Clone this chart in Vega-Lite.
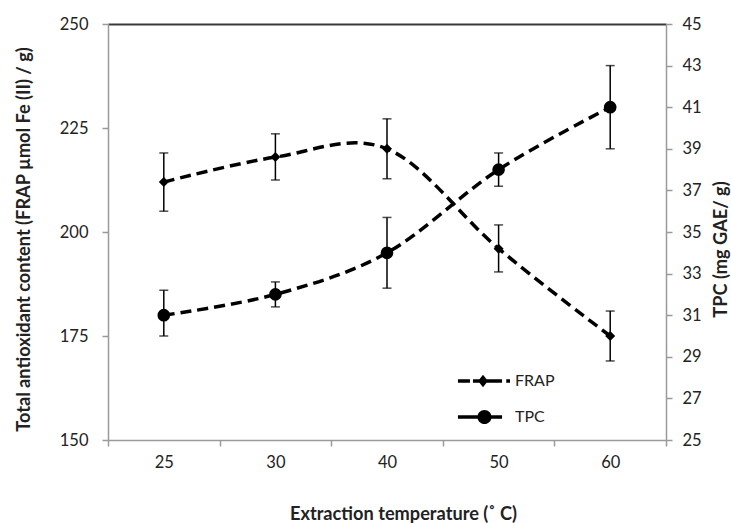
{
  "$schema": "https://vega.github.io/schema/vega-lite/v6.json",
  "width": 558,
  "height": 416,
  "autosize": "none",
  "padding": {"left": 108, "top": 24, "right": 65, "bottom": 83},
  "background": "white",
  "config": {
    "view": {"stroke": null},
    "font": "Lato",
    "axis": {
      "grid": false,
      "domainColor": "#9a9a9a",
      "domainWidth": 1.5,
      "tickColor": "#9a9a9a",
      "tickWidth": 1.5,
      "tickSize": 6,
      "labelFont": "Lato",
      "labelFontSize": 16.5,
      "labelColor": "#222222",
      "titleFont": "Lato",
      "titleFontSize": 18.2,
      "titleFontWeight": "bold",
      "titleColor": "#222222"
    }
  },
  "data": {
    "values": [
      {"temp": 25, "frap": 212, "frap_lo": 205, "frap_hi": 219, "tpc": 31, "tpc_lo": 30, "tpc_hi": 32.2},
      {"temp": 30, "frap": 218, "frap_lo": 212.5, "frap_hi": 223.6, "tpc": 32, "tpc_lo": 31.4, "tpc_hi": 32.6},
      {"temp": 40, "frap": 220, "frap_lo": 212.8, "frap_hi": 227.2, "tpc": 34, "tpc_lo": 32.3, "tpc_hi": 35.7},
      {"temp": 50, "frap": 196, "frap_lo": 190.4, "frap_hi": 201.7, "tpc": 38, "tpc_lo": 37.2, "tpc_hi": 38.8},
      {"temp": 60, "frap": 175, "frap_lo": 169, "frap_hi": 181, "tpc": 41, "tpc_lo": 39, "tpc_hi": 43}
    ]
  },
  "layer": [
    {
      "encoding": {
        "x": {
          "field": "temp", "type": "ordinal",
          "scale": {"type": "band", "paddingInner": 0, "paddingOuter": 0},
          "axis": {"orient": "bottom", "labelAngle": 0, "tickBand": "extent", "labelPadding": 8, "titleX": 295, "titleY": 74, "titleAlign": "center", "titleBaseline": "middle", "title": "Extraction temperature (˚ C)"}
        }
      },
      "layer": [
        {
          "mark": {"type": "rule", "color": "black", "strokeWidth": 1.5},
          "encoding": {
            "y": {"field": "frap_lo", "type": "quantitative", "scale": {"domain": [150, 250], "nice": false},
              "axis": {"orient": "left", "values": [150, 175, 200, 225, 250], "labelPadding": 14, "titleX": -84, "titleY": 215, "titleAlign": "center", "titleBaseline": "middle", "titleAngle": 270},
              "title": "Total antioxidant content (FRAP µmol Fe (II) / g)"},
            "y2": {"field": "frap_hi"}
          }
        },
        {
          "mark": {"type": "tick", "color": "black", "size": 9, "thickness": 1.5},
          "encoding": {"y": {"field": "frap_lo", "type": "quantitative", "title": "Total antioxidant content (FRAP µmol Fe (II) / g)"}}
        },
        {
          "mark": {"type": "tick", "color": "black", "size": 9, "thickness": 1.5},
          "encoding": {"y": {"field": "frap_hi", "type": "quantitative", "title": "Total antioxidant content (FRAP µmol Fe (II) / g)"}}
        },
        {
          "mark": {"type": "line", "color": "black", "strokeWidth": 3.5, "strokeDash": [11, 6], "interpolate": "cardinal"},
          "encoding": {"y": {"field": "frap", "type": "quantitative", "title": "Total antioxidant content (FRAP µmol Fe (II) / g)"}}
        },
        {
          "mark": {"type": "point", "filled": true, "color": "black", "opacity": 1, "size": 100, "shape": "diamond"},
          "encoding": {"y": {"field": "frap", "type": "quantitative", "title": "Total antioxidant content (FRAP µmol Fe (II) / g)"}}
        },
        {
          "mark": {"type": "point", "filled": true, "color": "black", "size": 0},
          "encoding": {
            "y": {"field": "frap", "type": "quantitative", "title": "Total antioxidant content (FRAP µmol Fe (II) / g)"},
            "shape": {
              "datum": "FRAP",
              "scale": {"domain": ["FRAP", "TPC"], "range": [
                "M-1.67,-0.12H-0.87V0.12H-1.67Z M-0.67,-0.12H1.27V0.12H-0.67Z M1.55,-0.12H1.8V0.12H1.55Z M-0.33,0L0,-0.42L0.33,0L0,0.42Z",
                "M-1.67,-0.12H1.27V0.12H-1.67Z M-0.37,0A0.47,0.47 0 1 1 0.57,0A0.47,0.47 0 1 1 -0.37,0Z"
              ]},
              "legend": {
                "orient": "none", "legendX": 360, "legendY": 342, "title": null,
                "symbolSize": 900, "labelOffset": 17, "rowPadding": 13, "padding": 0,
                "labelFont": "Lato", "labelFontSize": 16, "labelColor": "#222222",
                "symbolFillColor": "black", "symbolStrokeWidth": 0, "symbolOpacity": 1
              }
            }
          }
        }
      ]
    },
    {
      "encoding": {
        "x": {
          "field": "temp", "type": "ordinal",
          "scale": {"type": "band", "paddingInner": 0, "paddingOuter": 0},
          "axis": {"orient": "top", "labels": false, "ticks": false, "title": null, "domainColor": "#3a3a3a", "domainWidth": 2}
        }
      },
      "layer": [
        {
          "mark": {"type": "rule", "color": "black", "strokeWidth": 1.5},
          "encoding": {
            "y": {"field": "tpc_lo", "type": "quantitative", "scale": {"domain": [25, 45], "nice": false},
              "axis": {"orient": "right", "values": [25, 27, 29, 31, 33, 35, 37, 39, 41, 43, 45], "labelPadding": 10, "titleX": 55, "titleY": 225, "titleAlign": "center", "titleBaseline": "middle", "titleAngle": 270},
              "title": "TPC (mg GAE/ g)"},
            "y2": {"field": "tpc_hi"}
          }
        },
        {
          "mark": {"type": "tick", "color": "black", "size": 9, "thickness": 1.5},
          "encoding": {"y": {"field": "tpc_lo", "type": "quantitative", "title": "TPC (mg GAE/ g)"}}
        },
        {
          "mark": {"type": "tick", "color": "black", "size": 9, "thickness": 1.5},
          "encoding": {"y": {"field": "tpc_hi", "type": "quantitative", "title": "TPC (mg GAE/ g)"}}
        },
        {
          "mark": {"type": "line", "color": "black", "strokeWidth": 3.5, "strokeDash": [11, 6], "interpolate": "cardinal"},
          "encoding": {"y": {"field": "tpc", "type": "quantitative", "title": "TPC (mg GAE/ g)"}}
        },
        {
          "mark": {"type": "point", "filled": true, "color": "black", "opacity": 1, "size": 160, "shape": "circle"},
          "encoding": {"y": {"field": "tpc", "type": "quantitative", "title": "TPC (mg GAE/ g)"}}
        },
        {
          "mark": {"type": "point", "filled": true, "color": "black", "size": 0},
          "encoding": {
            "y": {"field": "tpc", "type": "quantitative", "title": "TPC (mg GAE/ g)"},
            "shape": {"datum": "TPC"}
          }
        }
      ]
    }
  ],
  "resolve": {"scale": {"y": "independent"}, "axis": {"x": "independent"}}
}
